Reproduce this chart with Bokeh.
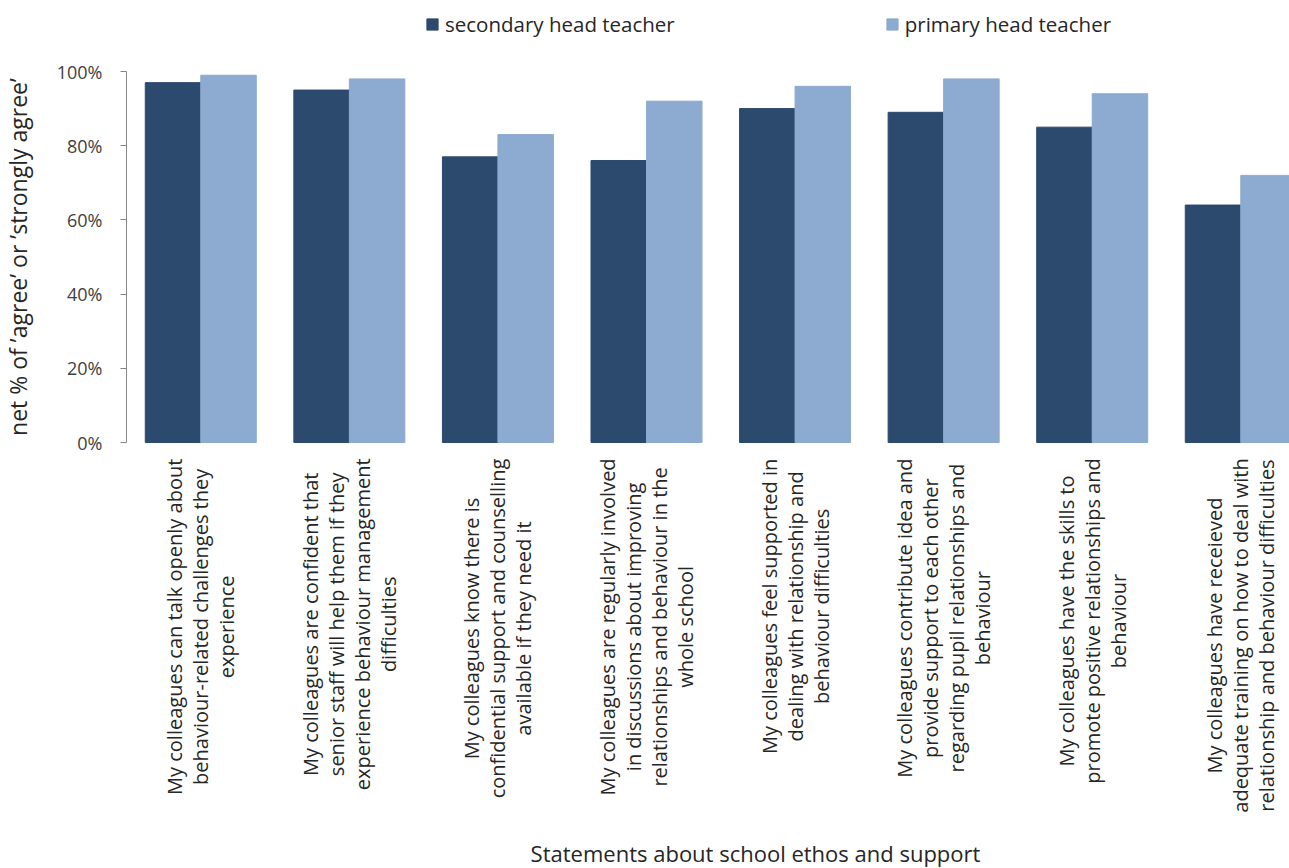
import glob
import os
import numpy as np
from bokeh.plotting import figure
from bokeh.models import (ColumnDataSource, Range1d, FixedTicker, Legend, LegendItem)
from bokeh.core.properties import value
from bokeh.embed import file_html
from bokeh.resources import INLINE

# ---- data ----
categories = [
    "My colleagues can talk openly about\nbehaviour-related challenges they\nexperience",
    "My colleagues are confident that\nsenior staff will help them if they\nexperience behaviour management\ndifficulties",
    "My colleagues know there is\nconfidential support and counselling\navailable if they need it",
    "My colleagues are regularly involved\nin discussions about improving\nrelationships and behaviour in the\nwhole school",
    "My colleagues feel supported in\ndealing with relationship and\nbehaviour difficulties",
    "My colleagues contribute idea and\nprovide support to each other\nregarding pupil relationships and\nbehaviour",
    "My colleagues have the skills to\npromote positive relationships and\nbehaviour",
    "My colleagues have receieved\nadequate training on how to deal with\nrelationship and behaviour difficulties",
]
secondary = [97, 95, 77, 76, 90, 89, 85, 64]
primary = [99, 98, 83, 92, 96, 98, 94, 72]
series_names = ["secondary head teacher", "primary head teacher"]
y_ticks = [0, 20, 40, 60, 80, 100]
y_title = "net % of \u2019agree\u2019 or \u2019strongly agree\u2019"
x_title = "Statements about school ethos and support"

DARK = "#2C496E"
LIGHT = "#8DAAD0"
FONT = "Open Sans"
CAT_SIZE = 20

# ---- layout geometry (pixels) ----
W, H = 1289, 868
PX_X = 148.57          # pixels per category
PX_Y = 3.71            # pixels per percent
LEFT, TOP, ZERO = 126, 71, 442

x0 = -LEFT / PX_X
x1 = (W - LEFT) / PX_X
y1 = 100 + TOP / PX_Y
y0 = -(H - ZERO) / PX_Y


def make_measure(size):
    try:
        from PIL import ImageFont
        cands = []
        for d in ["/usr/share/fonts", "/usr/local/share/fonts",
                  os.path.expanduser("~/.fonts"), os.path.expanduser("~/.local/share/fonts")]:
            cands += [p for p in glob.glob(d + "/**/*", recursive=True)
                      if "opensans" in os.path.basename(p).lower().replace(" ", "").replace("-", "")
                      and p.lower().endswith((".ttf", ".otf"))]

        def rank(p):
            b = os.path.basename(p).lower()
            if "italic" in b:
                return 9
            if "regular" in b:
                return 0
            if "[" in b:
                return 1
            if "bold" in b or "light" in b or "semi" in b or "extra" in b or "condensed" in b:
                return 8
            return 2
        cands.sort(key=rank)
        f = ImageFont.truetype(cands[0], size)
        return lambda s: f.getlength(s)
    except Exception:
        return lambda s: len(s) * size * 0.47


measure = make_measure(CAT_SIZE)

idx = np.arange(len(categories))
bw = 0.3736
src = ColumnDataSource(dict(
    xs=idx + 0.5 - bw / 2, xp=idx + 0.5 + bw / 2,
    sec=secondary, pri=primary,
))

# category label lines: centred lines, block's upper end 16px below the axis
top_y = -16 / PX_Y
line_gap = 26 / PX_X
lx, ly, lt = [], [], []
for i, cat in enumerate(categories):
    lines = cat.split("\n")
    longest = max(measure(s) for s in lines)
    yc = top_y - (longest / 2) / PX_Y
    n = len(lines)
    for j, s in enumerate(lines):
        lx.append(i + 0.5 + (j - (n - 1) / 2) * line_gap)
        ly.append(yc)
        lt.append(s)
lab_src = ColumnDataSource(dict(x=lx, y=ly, text=lt))

p = figure(width=W, height=H, output_backend="svg", toolbar_location=None,
           x_range=Range1d(x0, x1), y_range=Range1d(y0, y1),
           x_axis_location=None,
           min_border_left=0, min_border_top=0, min_border_bottom=0, min_border_right=0)
p.outline_line_color = None
p.grid.grid_line_color = None

r1 = p.vbar(x="xs", top="sec", width=bw, source=src, fill_color=DARK, line_color=DARK)
r2 = p.vbar(x="xp", top="pri", width=bw, source=src, fill_color=LIGHT, line_color=LIGHT)

# y axis placed inside the frame at x = 0
ya = p.yaxis[0]
ya.fixed_location = 0
ya.bounds = (y_ticks[0], y_ticks[-1])
ya.ticker = FixedTicker(ticks=y_ticks)
ya.major_label_overrides = {t: f"{t}%" for t in y_ticks}
ya.axis_line_color = "#868686"
ya.major_tick_line_color = "#868686"
ya.major_tick_out = 6
ya.major_tick_in = 0
ya.minor_tick_line_color = None
ya.major_label_standoff = 18
ya.major_label_text_font = FONT
ya.major_label_text_font_size = "18px"
ya.major_label_text_color = "#404040"

# category labels
p.text(x="x", y="y", text="text", source=lab_src, angle=np.pi / 2,
       text_align="center", text_baseline="middle",
       text_font=value(FONT), text_font_size=f"{CAT_SIZE}px", text_color="#262626")

# y axis title
p.text(x=[(17 - LEFT) / PX_X], y=[(y_ticks[0] + y_ticks[-1]) / 2], text=[y_title],
       angle=np.pi / 2, text_align="center", text_baseline="middle",
       text_font=value(FONT), text_font_size="23px", text_color="#262626")

# x axis title
p.text(x=[(755 - LEFT) / PX_X], y=[-(852 - ZERO) / PX_Y], text=[x_title],
       text_align="center", text_baseline="middle",
       text_font=value(FONT), text_font_size="22px", text_color="#262626")

legend = Legend(items=[LegendItem(label=series_names[0], renderers=[r1]),
                       LegendItem(label=series_names[1], renderers=[r2])],
                orientation="horizontal", location=(425, H - 28 - 10),
                glyph_width=14, glyph_height=14, label_height=20, label_standoff=6,
                spacing=210, padding=0, margin=0, border_line_color=None,
                background_fill_alpha=0,
                label_text_font=FONT, label_text_font_size="20.5px",
                label_text_color="#262626")
p.add_layout(legend, "center")

open("out.html", "w").write(file_html(p, INLINE))
